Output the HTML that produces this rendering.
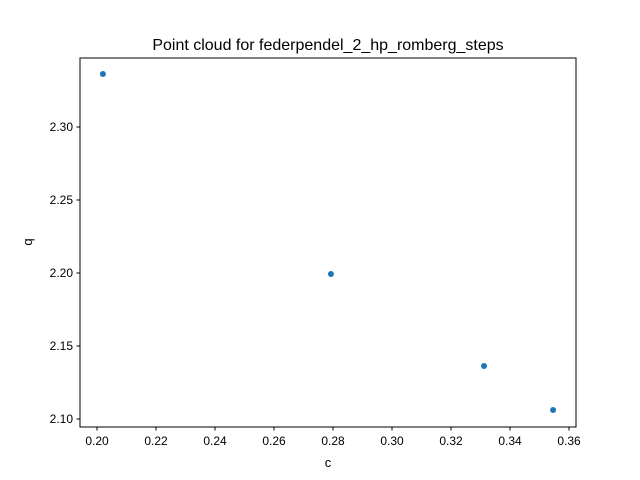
<!DOCTYPE html>
<html><head><meta charset="utf-8"><style>
body{margin:0;background:#fff;}
svg{display:block;font-family:"Liberation Sans","DejaVu Sans",sans-serif;}
</style></head><body>
<svg id="chart" width="640" height="480">
<rect width="640" height="480" fill="#fff"/>
<text x="328" y="50" text-anchor="middle" font-size="16">Point cloud for federpendel_2_hp_romberg_steps</text>
<g id="xt"></g><g id="yt"></g><g id="pts"></g>
<rect x="80" y="58" width="496" height="369" fill="none" stroke="#000" stroke-width="1"/>
<text x="328" y="467" text-anchor="middle" font-size="13">c</text>
<text x="32" y="242" text-anchor="middle" font-size="13" transform="rotate(-90 32 242)">q</text>
</svg>
<script>
const cVals=[0.2020,0.2793,0.3312,0.3546];
const qVals=[2.3363,2.1993,2.1363,2.1062];
const xTicks=[0.20,0.22,0.24,0.26,0.28,0.30,0.32,0.34,0.36];
const yTicks=[2.10,2.15,2.20,2.25,2.30];
const NS="http://www.w3.org/2000/svg";
function X(v){return 97+(v-0.20)*2950;}
function Y(v){return 419-(v-2.10)*1460;}
function mk(t,a,p){const e=document.createElementNS(NS,t);for(const k in a)e.setAttribute(k,a[k]);p.appendChild(e);return e;}
const xt=document.getElementById('xt'),yt=document.getElementById('yt'),pts=document.getElementById('pts');
xTicks.forEach(v=>{const x=X(v);
const l=mk('line',{x1:x,x2:x,y1:427,y2:430.5,stroke:'#000'},xt);


const t=mk('text',{x:x,y:445,'text-anchor':'middle','font-size':'12'},xt);t.textContent=v.toFixed(2);

});
yTicks.forEach(v=>{const y=Y(v);
const l=mk('line',{x1:76.5,x2:80,y1:y,y2:y,stroke:'#000'},yt);


const t=mk('text',{x:73,y:y+4,'text-anchor':'end','font-size':'12'},yt);t.textContent=v.toFixed(2);

});
cVals.forEach((c,i)=>{const p=mk('circle',{cx:X(c),cy:Y(qVals[i]),r:3,fill:'#1f77b4'},pts);

});
</script>
</body></html>
